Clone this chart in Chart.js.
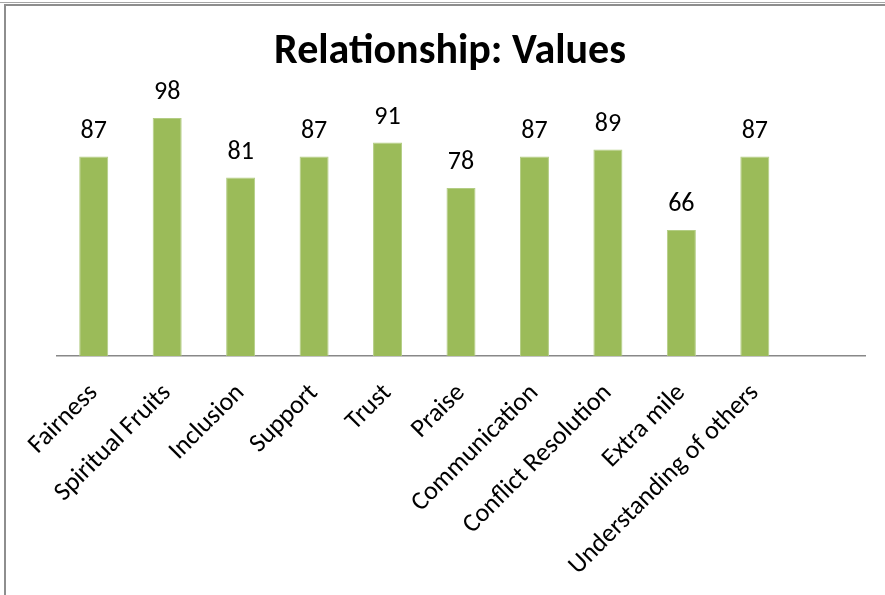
<!DOCTYPE html>
<html>
<head>
<meta charset="utf-8">
<title>Relationship: Values</title>
<script src="https://cdn.jsdelivr.net/npm/chart.js@4.4.1/dist/chart.umd.min.js"></script>
<style>
  html, body { margin: 0; padding: 0; background: #fff; overflow: hidden; }
  #wrap { position: relative; width: 885px; height: 595px; }
  #myChart { position: absolute; left: 0; top: 0; }
  .rule-top { position: absolute; left: 0; top: 2px; width: 885px; border-top: 1px solid #a6a6a6; }
  .frame { position: absolute; left: 4px; top: 4px; width: 900px; height: 600px;
           border-top: 2px solid #8e8e8e; border-left: 2px solid #8e8e8e; pointer-events: none; }
</style>
</head>
<body>
<div id="wrap">
  <canvas id="myChart" width="885" height="595"></canvas>
  <div class="rule-top"></div>
  <div class="frame"></div>
</div>
<script>
const categories = ['Fairness', 'Spiritual Fruits', 'Inclusion', 'Support', 'Trust', 'Praise',
    'Communication', 'Conflict Resolution', 'Extra mile', 'Understanding of others'];
const scores = [87, 98, 81, 87, 91, 78, 87, 89, 66, 87];
const yRange = [30, 100];

const fontFamily = "Carlito, Lato, 'Open Sans', sans-serif";

// value printed above each bar
const barValueLabels = {
    id: 'barValueLabels',
    afterDatasetsDraw(chart) {
        const ctx = chart.ctx;
        const meta = chart.getDatasetMeta(0);
        ctx.save();
        ctx.font = '26px ' + fontFamily;
        ctx.fillStyle = '#000';
        ctx.textAlign = 'center';
        ctx.textBaseline = 'alphabetic';
        meta.data.forEach((bar, i) => {
            ctx.fillText(String(scores[i]), bar.x, bar.y - 19);
        });
        ctx.restore();
    }
};

const ctx = document.getElementById('myChart').getContext('2d');

new Chart(ctx, {
    type: 'bar',
    data: {
        // one blank slot at the end keeps the axis running past the last bar
        labels: categories.concat(['']),
        datasets: [{
            data: scores,
            backgroundColor: '#9BBB59',
            borderColor: '#B3CD84',
            borderWidth: { top: 1, left: 1, right: 1, bottom: 0 },
            barPercentage: 0.395,
            categoryPercentage: 1
        }]
    },
    options: {
        responsive: false,
        animation: false,
        devicePixelRatio: 1,
        layout: {
            padding: { left: 35, right: 20, top: 0, bottom: 0 }
        },
        plugins: {
            legend: { display: false },
            tooltip: { enabled: false },
            title: {
                display: true,
                text: 'Relationship: Values',
                color: '#000',
                font: { family: fontFamily, size: 42, weight: 'bold' },
                padding: { top: 27, bottom: 33.6 }
            }
        },
        scales: {
            x: {
                grid: { display: false, drawTicks: false },
                border: { display: true, color: '#888', width: 1.5 },
                ticks: {
                    color: '#000',
                    font: { family: fontFamily, size: 26 },
                    minRotation: 45,
                    maxRotation: 45,
                    autoSkip: false,
                    padding: 22
                },
                afterFit: (scale) => { scale.height = 239; }
            },
            y: {
                min: yRange[0],
                max: yRange[1],
                grid: { display: false, drawTicks: false },
                border: { display: false },
                ticks: { display: false },
                afterFit: (scale) => { scale.width = 22; }
            }
        }
    },
    plugins: [barValueLabels]
});
</script>
</body>
</html>
